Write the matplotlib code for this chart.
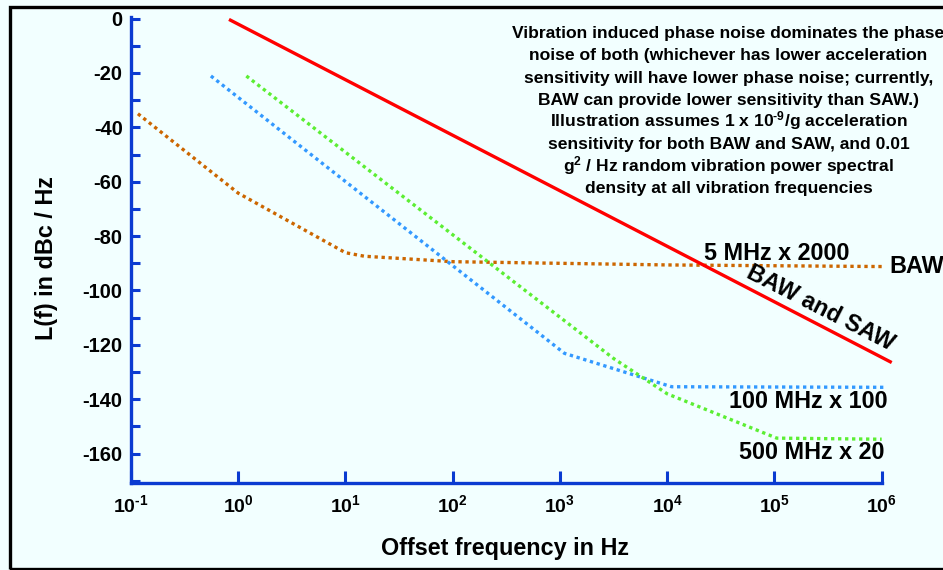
import matplotlib
matplotlib.use('Agg')
import matplotlib.pyplot as plt
from matplotlib.patches import Rectangle

plt.rcParams['font.family'] = 'Liberation Sans'
plt.rcParams['font.weight'] = 'bold'
plt.rcParams['axes.unicode_minus'] = False
plt.rcParams['mathtext.fontset'] = 'custom'
plt.rcParams['mathtext.rm'] = 'Liberation Sans:bold'
plt.rcParams['mathtext.it'] = 'Liberation Sans:bold'
plt.rcParams['mathtext.bf'] = 'Liberation Sans:bold'
plt.rcParams['mathtext.default'] = 'regular'

BG = '#F2FFFF'
AXIS_BLUE = '#0B3BD1'
RED = '#FF0000'
ORANGE = '#CC6600'
BLUE = '#3399FF'
GREEN = '#5CEE33'

# --- Data ------------------------------------------------------------
# BAW and SAW (vibration limited), 5 MHz x 2000, 100 MHz x 100, 500 MHz x 20
vib_f = [0.82, 1.24e6]
vib_L = [-0.3, -126.5]

baw_f = [0.116, 1, 10, 15, 100, 1e4, 1.05e6]
baw_L = [-35, -64.2, -86.1, -87.4, -89.4, -90.6, -91.2]

mhz100_f = [0.556, 1100, 1.1e4, 1.05e6]
mhz100_L = [-21.1, -123.1, -135.4, -135.6]

mhz500_f = [1.19, 3160, 1e4, 1.05e5, 1e6]
mhz500_L = [-21.1, -125.0, -138.0, -154.3, -154.7]

yticks = list(range(0, -161, -20))
xticks = [1e-1, 1e0, 1e1, 1e2, 1e3, 1e4, 1e5, 1e6]
xticklabels = [r'$10^{\text{-}1}$', r'$10^{0}$', r'$10^{1}$', r'$10^{2}$',
               r'$10^{3}$', r'$10^{4}$', r'$10^{5}$', r'$10^{6}$']

note_lines = [
    'Vibration induced phase noise dominates the phase',
    'noise of both (whichever has lower acceleration',
    'sensitivity will have lower phase noise; currently,',
    'BAW can provide lower sensitivity than SAW.)',
    r'Illustration assumes 1 x 10$^{\text{-}9}$/g acceleration',
    'sensitivity for both BAW and SAW, and 0.01',
    r'g$^{2}$ / Hz random vibration power spectral',
    'density at all vibration frequencies',
]

# --- Figure ----------------------------------------------------------
W, H = 943, 570
fig = plt.figure(figsize=(W / 100, H / 100), dpi=100, facecolor=BG)


def px(x, y):
    return x / W, 1 - y / H


ax = fig.add_axes([131 / W, 1 - 483 / H, (881.7 - 131) / W, (483 - 16.7) / H])
ax.set_facecolor(BG)
ax.set_xscale('log')
ax.set_xlim(1e-1, 1e6)
ax.set_ylim(-170.8, 0.7)

ax.plot(vib_f, vib_L, color=RED, lw=2.4, solid_capstyle='butt', clip_on=False, zorder=5)
dot = dict(lw=2.4, linestyle=(0, (1, 1.1)), dash_capstyle='butt', clip_on=False)
ax.plot(baw_f, baw_L, color=ORANGE, **dot)
ax.plot(mhz100_f, mhz100_L, color=BLUE, **dot)
ax.plot(mhz500_f, mhz500_L, color=GREEN, **dot)

for s in ['top', 'right']:
    ax.spines[s].set_visible(False)
for s in ['left', 'bottom']:
    ax.spines[s].set_color(AXIS_BLUE)
    ax.spines[s].set_linewidth(2.4)

ax.set_yticks(yticks)
ax.set_yticks(list(range(-10, -171, -20)), minor=True)
ax.set_xticks(xticks)
ax.set_xticklabels(xticklabels)
ax.xaxis.set_minor_locator(matplotlib.ticker.NullLocator())
ax.tick_params(axis='y', which='both', direction='in', length=6.5, width=2.2,
               color=AXIS_BLUE, labelsize=14.5, pad=6)
ax.tick_params(axis='x', which='major', direction='in', length=9, width=2.2,
               color=AXIS_BLUE, labelsize=14, pad=8)
for lbl in ax.get_yticklabels():
    lbl.set_fontweight('bold')

# curve labels
lab = dict(fontsize=16.8, fontweight='bold', clip_on=False, va='baseline')
ax.text(2.2e4, -88.7, '5 MHz x 2000', ha='left', **lab)
ax.text(1.17e6, -93.6, 'BAW', ha='left', **lab)
ax.text(1.146e6, -143.2, '100 MHz x 100', ha='right', **lab)
ax.text(1.07e6, -161.9, '500 MHz x 20', ha='right', **lab)
ax.text(2.66e5, -106.4, 'BAW and SAW', ha='center', va='center', rotation=-27,
        rotation_mode='anchor', fontsize=16.8, fontweight='bold', clip_on=False)

# explanatory note
for i, line in enumerate(note_lines):
    fig.text(*px(728.5, 38.3 + i * 22.14), line, ha='center', va='baseline',
             fontsize=12.6, fontweight='bold')

fig.text(*px(47, 258), 'L(f) in dBc / Hz', rotation=90, ha='center', va='center',
         fontsize=16.8, fontweight='bold')
fig.text(*px(505, 555), 'Offset frequency in Hz', ha='center', va='baseline',
         fontsize=16.8, fontweight='bold')

# outer frame
fig.patches.append(Rectangle(px(10, 568.5), 960 / W, (568.5 - 6.5) / H,
                             transform=fig.transFigure, fill=False,
                             edgecolor='black', lw=2.4, zorder=10))

fig.savefig('out.png', dpi=100, facecolor=BG)
